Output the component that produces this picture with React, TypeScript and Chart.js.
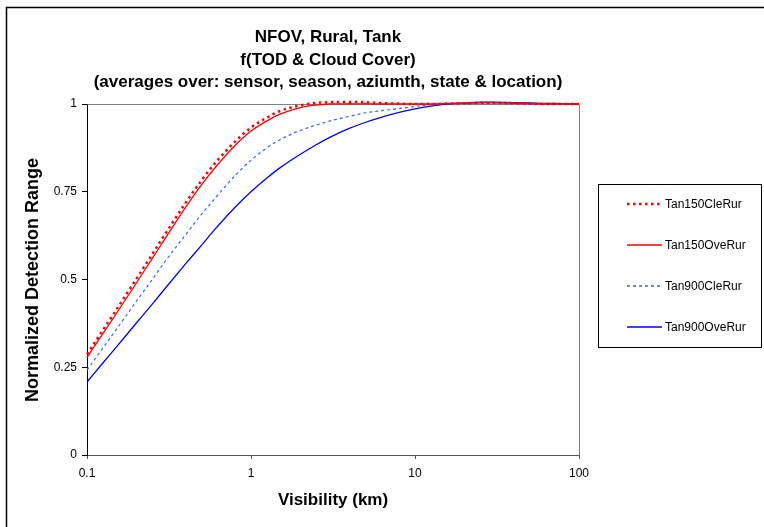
import React, { useEffect, useRef } from 'react';
import { Chart, registerables } from 'chart.js';

Chart.register(...registerables);

// ---- data ----
const visibilityKm = [0.1, 0.125, 0.15, 0.2, 0.25, 0.3, 0.4, 0.5, 0.6, 0.8, 1, 1.25, 1.5, 2, 2.5, 3, 4, 5, 6, 8, 10, 12.5, 15, 20, 25, 30, 40, 50, 60, 80, 100];

const tan150CleRur = [0.287, 0.356, 0.412, 0.502, 0.572, 0.63, 0.719, 0.783, 0.83, 0.893, 0.933, 0.961, 0.98, 0.996, 1.003, 1.005, 1.006, 1.005, 1.003, 1.001, 1.0, 1.0, 1.001, 1.002, 1.003, 1.003, 1.002, 1.001, 1.0, 1.0, 1.0];
const tan150OveRur = [0.278, 0.346, 0.401, 0.49, 0.56, 0.617, 0.706, 0.77, 0.817, 0.882, 0.923, 0.952, 0.971, 0.99, 0.997, 1.0, 1.001, 1.001, 1.0, 1.0, 1.0, 1.0, 1.001, 1.002, 1.003, 1.003, 1.002, 1.001, 1.0, 1.0, 1.0];
const tan900CleRur = [0.242, 0.305, 0.356, 0.438, 0.5, 0.552, 0.628, 0.686, 0.73, 0.796, 0.84, 0.875, 0.898, 0.925, 0.94, 0.951, 0.965, 0.975, 0.98, 0.987, 0.993, 0.998, 1.001, 1.003, 1.004, 1.004, 1.003, 1.002, 1.001, 1.0, 1.0];
const tan900OveRur = [0.208, 0.262, 0.306, 0.376, 0.43, 0.475, 0.545, 0.598, 0.642, 0.706, 0.75, 0.789, 0.818, 0.857, 0.884, 0.904, 0.931, 0.948, 0.96, 0.976, 0.986, 0.994, 0.999, 1.003, 1.005, 1.005, 1.004, 1.003, 1.002, 1.001, 1.0];

const seriesNames = ['Tan150CleRur', 'Tan150OveRur', 'Tan900CleRur', 'Tan900OveRur'];
const xTickValues = [0.1, 1, 10, 100];
const yTickStep = 0.25;

const titleLines = ['NFOV, Rural, Tank', 'f(TOD & Cloud Cover)', '(averages over: sensor, season, aziumth, state & location)'];
const xAxisTitle = 'Visibility (km)';
const yAxisTitle = 'Normalized Detection Range';

const FONT = '"Liberation Sans", Arial, Helvetica, sans-serif';

export default function App() {
  const ref = useRef<HTMLCanvasElement | null>(null);

  useEffect(() => {
    document.body.style.margin = '0';
    const canvas = ref.current;
    if (!canvas) return;
    const mk = (arr: number[]) => visibilityKm.map((x, i) => ({ x, y: arr[i] }));

    const decor = {
      id: 'decor',
      beforeDraw(chart: any) {
        const c = chart.ctx;
        c.save();
        c.fillStyle = '#fff';
        c.fillRect(0, 0, chart.width, chart.height);
        c.restore();
      },
      beforeDatasetsDraw(chart: any) {
        const c = chart.ctx;
        const a = chart.chartArea;
        c.save();
        c.strokeStyle = '#808080';
        c.lineWidth = 1;
        c.beginPath();
        c.moveTo(Math.round(a.left) + 0.5, Math.round(a.top) + 0.5);
        c.lineTo(Math.round(a.right) + 0.5, Math.round(a.top) + 0.5);
        c.lineTo(Math.round(a.right) + 0.5, Math.round(a.bottom) + 0.5);
        c.stroke();
        c.restore();
      },
      afterDraw(chart: any) {
        const c = chart.ctx;
        c.save();
        // outer chart frame
        c.strokeStyle = '#000';
        c.lineWidth = 1.5;
        c.beginPath();
        c.moveTo(6.5, chart.height + 2);
        c.lineTo(6.5, 7.5);
        c.lineTo(chart.width + 2, 7.5);
        c.stroke();

        // title
        c.fillStyle = '#000';
        c.textAlign = 'center';
        c.textBaseline = 'middle';
        c.font = `bold 17px ${FONT}`;
        const ty = [37, 60, 82];
        titleLines.forEach((t, i) => c.fillText(t, 328, ty[i]));

        // axis titles
        c.fillText(xAxisTitle, 333, 500);
        c.save();
        c.font = `bold 18px ${FONT}`;
        c.translate(33, 280);
        c.rotate(-Math.PI / 2);
        c.fillText(yAxisTitle, 0, 0);
        c.restore();

        // legend
        c.strokeStyle = '#000';
        c.lineWidth = 1;
        c.strokeRect(598.5, 184.5, 163, 163);
        c.textAlign = 'left';
        c.font = `12px ${FONT}`;
        chart.data.datasets.forEach((ds: any, i: number) => {
          const y = 204 + i * 41;
          c.save();
          c.strokeStyle = String(ds.borderColor);
          c.lineWidth = Math.max(1.5, ds.borderWidth);
          c.setLineDash(ds.borderDash || []);
          c.beginPath();
          c.moveTo(627, y);
          c.lineTo(662, y);
          c.stroke();
          c.restore();
          c.fillStyle = '#000';
          c.fillText(ds.label, 665, y + 1);
        });
        c.restore();
      },
    };

    const chart = new Chart(canvas, {
      type: 'line',
      data: {
        datasets: [
          { label: seriesNames[0], data: mk(tan150CleRur), borderColor: '#FF0000', borderWidth: 2.5, borderDash: [2.5, 3.5] },
          { label: seriesNames[1], data: mk(tan150OveRur), borderColor: '#FF0000', borderWidth: 1.3 },
          { label: seriesNames[2], data: mk(tan900CleRur), borderColor: '#3366FF', borderWidth: 1.2, borderDash: [3, 3] },
          { label: seriesNames[3], data: mk(tan900OveRur), borderColor: '#0000FF', borderWidth: 1.3 },
        ] as any,
      },
      options: {
        responsive: false,
        animation: false,
        layout: { padding: { top: 104, right: 185, bottom: 0, left: 0 } },
        plugins: { legend: { display: false }, title: { display: false }, tooltip: { enabled: false } },
        elements: {
          point: { radius: 0 },
          line: { tension: 0.4, cubicInterpolationMode: 'monotone', fill: false },
        },
        datasets: { line: { clip: 4 } } as any,
        scales: {
          x: {
            type: 'logarithmic',
            min: 0.1,
            max: 100,
            afterFit: (s: any) => { s.height = 72; },
            afterBuildTicks: (s: any) => { s.ticks = xTickValues.map((v) => ({ value: v })); },
            ticks: {
              callback: (v: any) => String(v),
              font: { family: FONT, size: 12 },
              color: '#000',
              padding: 7,
              maxRotation: 0,
              autoSkip: false,
            },
            grid: { drawOnChartArea: false, drawTicks: true, tickLength: 4, color: '#555' },
            border: { display: true, color: '#555', width: 1 },
          },
          y: {
            type: 'linear',
            min: 0,
            max: 1,
            afterFit: (s: any) => { s.width = 87; },
            ticks: {
              stepSize: yTickStep,
              callback: (v: any) => String(v),
              font: { family: FONT, size: 12 },
              color: '#000',
              padding: 5,
            },
            grid: { drawOnChartArea: false, drawTicks: true, tickLength: 5, color: '#000' },
            border: { display: true, color: '#000', width: 1 },
          },
        },
      } as any,
      plugins: [decor],
    });
    return () => chart.destroy();
  }, []);

  return <canvas ref={ref} width={764} height={527} style={{ display: 'block' }} />;
}
